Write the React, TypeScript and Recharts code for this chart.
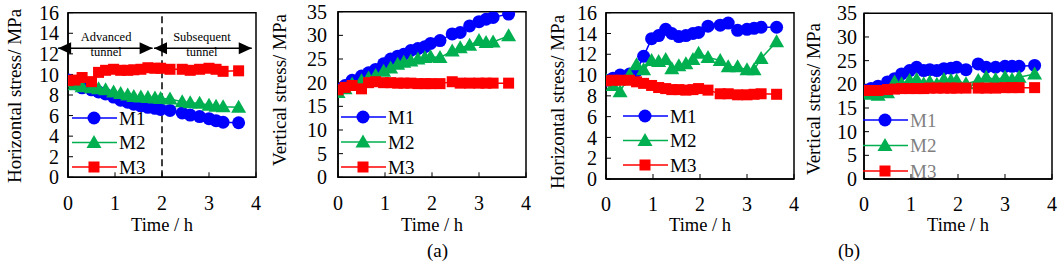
import { LineChart, Line, XAxis, YAxis, Legend, ReferenceLine, ReferenceDot, ReferenceArea } from "recharts"

const TIME = [0, 0.15, 0.3, 0.5, 0.65, 0.8, 0.97, 1.12, 1.27, 1.4, 1.55, 1.7, 1.85, 1.97, 2.17, 2.43, 2.6, 2.8, 3.0, 3.15, 3.3, 3.63]
const TIME_TICKS = [0, 1, 2, 3, 4]
const H_TICKS = [0, 2, 4, 6, 8, 10, 12, 14, 16]
const V_TICKS = [0, 5, 10, 15, 20, 25, 30, 35]
const SERIES = ["M1", "M2", "M3"]

// (a) horizontal stress
const A_H_M1 = [9.45, 9.1, 8.7, 8.5, 8.3, 8.1, 7.8, 7.5, 7.3, 7.1, 6.95, 6.8, 6.7, 6.6, 6.5, 6.25, 6.05, 5.9, 5.7, 5.5, 5.35, 5.3]
const A_H_M2 = [9.3, 9.0, 8.8, 8.7, 8.6, 8.5, 8.3, 8.15, 8.0, 7.85, 7.8, 7.75, 7.7, 7.65, 7.6, 7.35, 7.25, 7.2, 7.0, 6.9, 6.85, 6.8]
const A_H_M3 = [9.4, 9.45, 9.7, 9.3, 10.2, 10.4, 10.5, 10.4, 10.4, 10.45, 10.5, 10.65, 10.6, 10.6, 10.5, 10.5, 10.4, 10.5, 10.6, 10.5, 10.3, 10.35]
// (a) vertical stress
const A_V_M1 = [18.6, 19.4, 20.5, 21.4, 22.1, 22.8, 24.0, 25.0, 25.6, 26.0, 26.8, 27.2, 27.6, 28.3, 28.9, 30.3, 30.6, 32.0, 32.9, 33.4, 33.8, 34.5]
const A_V_M2 = [17.9, 18.7, 19.7, 20.4, 21.0, 21.5, 22.4, 23.1, 23.9, 24.3, 24.6, 25.0, 25.3, 25.5, 25.3, 26.7, 27.4, 27.9, 28.9, 28.5, 28.6, 29.9]
const A_V_M3 = [18.5, 19.0, 19.4, 18.7, 20.0, 20.2, 20.0, 20.0, 19.9, 19.9, 19.9, 19.8, 19.8, 19.8, 19.8, 20.2, 19.9, 19.9, 19.9, 19.9, 19.9, 19.9]
// (b) horizontal stress
const B_H_M1 = [9.5, 9.7, 10.0, 10.1, 10.4, 11.8, 13.5, 13.8, 14.4, 14.0, 13.7, 13.8, 14.0, 14.1, 14.7, 14.8, 15.0, 14.3, 14.4, 14.5, 14.6, 14.6]
const B_H_M2 = [9.5, 9.0, 8.4, 10.0, 11.0, 10.5, 11.4, 11.3, 11.5, 10.6, 10.9, 11.1, 11.5, 12.1, 11.7, 11.4, 10.8, 10.8, 10.5, 10.5, 11.6, 13.2]
const B_H_M3 = [9.45, 9.5, 9.5, 9.5, 9.35, 9.2, 9.0, 8.8, 8.7, 8.6, 8.6, 8.55, 8.6, 8.7, 8.55, 8.2, 8.2, 8.1, 8.1, 8.15, 8.2, 8.15]
// (b) vertical stress
const B_V_M1 = [18.7, 19.1, 19.6, 20.5, 21.2, 22.2, 22.9, 23.6, 22.9, 23.1, 22.9, 23.3, 23.4, 23.6, 23.1, 24.3, 23.6, 23.6, 23.8, 23.8, 23.8, 24.0]
const B_V_M2 = [18.2, 17.9, 17.7, 18.2, 20.5, 20.1, 20.8, 21.0, 20.1, 20.5, 20.0, 21.0, 20.8, 20.8, 20.1, 20.8, 21.5, 21.0, 21.5, 21.0, 21.5, 22.2]
const B_V_M3 = [18.7, 18.7, 18.7, 18.9, 19.0, 19.1, 19.1, 19.1, 19.1, 19.2, 19.2, 19.2, 19.2, 19.2, 19.2, 19.2, 19.2, 19.2, 19.3, 19.3, 19.3, 19.3]

const COLORS: Record<string, string> = { M1: "#0000ff", M2: "#00b050", M3: "#ff0000" }
const FONT = "Liberation Serif, serif"

function rows(m1: number[], m2: number[], m3: number[]) {
  return TIME.map((t, i) => ({ t, M1: m1[i], M2: m2[i], M3: m3[i] }))
}

function Marker({ name, x, y }: { name: string; x: number; y: number }) {
  const c = COLORS[name]
  if (name === "M1") return <circle cx={x} cy={y} r={6.5} fill={c} />
  if (name === "M2") return <path d={`M${x},${y - 7.5}L${x + 7.5},${y + 5.5}L${x - 7.5},${y + 5.5}Z`} fill={c} />
  return <rect x={x - 5.5} y={y - 5.5} width={11} height={11} fill={c} />
}

function LegendBox({ payload, gap, textColor }: any) {
  const items = [...(payload || [])].sort((a: any, b: any) => String(a.value).localeCompare(String(b.value)))
  return (
    <svg width={90} height={80} style={{ overflow: "visible" }}>
      {items.map((e: any, i: number) => {
        const y = 10 + i * gap
        return (
          <g key={e.value}>
            <line x1={0} x2={45} y1={y} y2={y} stroke={e.color} strokeWidth={1.5} />
            <Marker name={e.value} x={22} y={y} />
            <text x={47} y={y + 6.5} fontSize={19} fontFamily={FONT} fill={textColor}>{e.value}</text>
          </g>
        )
      })}
    </svg>
  )
}

function YTitle({ cx, cy, title }: any) {
  return (
    <text x={cx} y={cy} transform={`rotate(-90 ${cx} ${cy})`} textAnchor="middle" dominantBaseline="central"
      fontSize={19} fontFamily={FONT} fill="#000">{title}</text>
  )
}

function XTitle({ cx }: any) {
  return <text x={cx} y={231} textAnchor="middle" fontSize={18.5} fontFamily={FONT} fill="#000">Time / h</text>
}

function Arrow({ cx, cy, dir }: any) {
  const d = dir < 0
    ? `M${cx},${cy}L${cx + 13},${cy - 6}L${cx + 13},${cy + 6}Z`
    : `M${cx},${cy}L${cx - 13},${cy - 6}L${cx - 13},${cy + 6}Z`
  return <path d={d} fill="#000" />
}

function Note({ cx, cy, text }: any) {
  return <text x={cx} y={cy} textAnchor="middle" dominantBaseline="central" fontSize={12.5} fontFamily={FONT} fill="#000">{text}</text>
}

type PanelProps = {
  chartLeft: number
  plotLeft: number
  plotRight: number
  top: number
  bottom: number
  data: any[]
  yMax: number
  yTicks: number[]
  yTitle: string
  titleX: number
  titleY: number
  tickGap: number
  legendX: number
  legendY: number
  legendGap: number
  legendColor: string
  tunnels?: boolean
}

function Panel(p: PanelProps) {
  const width = p.plotRight + 7 - p.chartLeft
  const yWidth = p.plotLeft - p.chartLeft
  return (
    <div style={{ position: "absolute", left: p.chartLeft, top: 0 }}>
      <LineChart width={width} height={265} data={p.data}
        margin={{ top: p.top, right: 7, bottom: 0, left: 0 }}>
        <XAxis type="number" dataKey="t" domain={[0, 4]} ticks={TIME_TICKS} allowDataOverflow
          height={265 - p.bottom} tickSize={-5} tickMargin={23} interval={0}
          axisLine={{ stroke: "#000", strokeWidth: 1.5 }} tickLine={{ stroke: "#000" }}
          tick={{ fontSize: 20, fill: "#000", fontFamily: FONT }}
          label={<XTitle cx={(p.plotLeft + p.plotRight) / 2 - p.chartLeft} />} />
        <YAxis type="number" domain={[0, p.yMax]} ticks={p.yTicks} width={yWidth} interval={0}
          tickSize={-5} tickMargin={5 + p.tickGap} allowDataOverflow
          axisLine={{ stroke: "#000", strokeWidth: 1.5 }} tickLine={{ stroke: "#000" }}
          tick={{ fontSize: 20, fill: "#000", fontFamily: FONT }}
          label={<YTitle cx={p.titleX - p.chartLeft} cy={p.titleY} title={p.yTitle} />} />
        <ReferenceArea x1={0} x2={4} y1={0} y2={p.yMax} fill="none" stroke="#000" strokeWidth={1.5} />
        {p.tunnels && <ReferenceLine x={2} stroke="#000" strokeWidth={1.5} strokeDasharray="7 4" />}
        {p.tunnels && <ReferenceLine segment={[{ x: -0.21, y: 12.55 }, { x: 1.8, y: 12.55 }]} stroke="#000" strokeWidth={1.5} ifOverflow="visible" />}
        {p.tunnels && <ReferenceLine segment={[{ x: 1.83, y: 12.55 }, { x: 3.91, y: 12.55 }]} stroke="#000" strokeWidth={1.5} ifOverflow="visible" />}
        {p.tunnels && <ReferenceDot x={-0.21} y={12.55} ifOverflow="visible" shape={(s: any) => <Arrow cx={s.cx} cy={s.cy} dir={-1} />} />}
        {p.tunnels && <ReferenceDot x={1.8} y={12.55} ifOverflow="visible" shape={(s: any) => <Arrow cx={s.cx} cy={s.cy} dir={1} />} />}
        {p.tunnels && <ReferenceDot x={1.83} y={12.55} ifOverflow="visible" shape={(s: any) => <Arrow cx={s.cx} cy={s.cy} dir={-1} />} />}
        {p.tunnels && <ReferenceDot x={3.91} y={12.55} ifOverflow="visible" shape={(s: any) => <Arrow cx={s.cx} cy={s.cy} dir={1} />} />}
        {p.tunnels && <ReferenceDot x={0.81} y={13.65} ifOverflow="visible" shape={(s: any) => <Note cx={s.cx} cy={s.cy} text="Advanced" />} />}
        {p.tunnels && <ReferenceDot x={0.81} y={12.2} ifOverflow="visible" shape={(s: any) => <Note cx={s.cx} cy={s.cy} text="tunnel" />} />}
        {p.tunnels && <ReferenceDot x={2.85} y={13.65} ifOverflow="visible" shape={(s: any) => <Note cx={s.cx} cy={s.cy} text="Subsequent" />} />}
        {p.tunnels && <ReferenceDot x={2.85} y={12.2} ifOverflow="visible" shape={(s: any) => <Note cx={s.cx} cy={s.cy} text="tunnel" />} />}
        {SERIES.map((name) => (
          <Line key={name} dataKey={name} name={name} type="linear" stroke={COLORS[name]} strokeWidth={1.5}
            isAnimationActive={false}
            dot={(d: any) => <Marker key={`${name}-${d.index}`} name={name} x={d.cx} y={d.cy} />} />
        ))}
        <Legend layout="vertical" align="center" verticalAlign="middle"
          wrapperStyle={{ left: p.legendX - p.chartLeft, top: p.legendY - 10, width: 90, height: 80 }}
          content={(lp: any) => <LegendBox payload={lp.payload} gap={p.legendGap} textColor={p.legendColor} />} />
      </LineChart>
    </div>
  )
}

export default function App() {
  return (
    <div style={{ position: "absolute", left: 0, top: 0, width: 1059, height: 265, background: "#fff", fontFamily: FONT }}>
      <Panel chartLeft={0} plotLeft={68} plotRight={256} top={12.7} bottom={177.3}
        data={rows(A_H_M1, A_H_M2, A_H_M3)} yMax={16} yTicks={H_TICKS} yTitle="Horizontal stress/ MPa"
        titleX={14} titleY={96} tickGap={9} legendX={72} legendY={118} legendGap={24.5} legendColor="#000" tunnels />
      <Panel chartLeft={265} plotLeft={338} plotRight={526} top={11.7} bottom={177.3}
        data={rows(A_V_M1, A_V_M2, A_V_M3)} yMax={35} yTicks={V_TICKS} yTitle="Vertical stress/ MPa"
        titleX={279} titleY={90} tickGap={11} legendX={341} legendY={117} legendGap={25} legendColor="#000" />
      <Panel chartLeft={530} plotLeft={606} plotRight={794} top={12.7} bottom={179}
        data={rows(B_H_M1, B_H_M2, B_H_M3)} yMax={16} yTicks={H_TICKS} yTitle="Horizontal stress/ MPa"
        titleX={557.5} titleY={102} tickGap={9} legendX={623} legendY={116} legendGap={24.5} legendColor="#000" />
      <Panel chartLeft={795} plotLeft={864} plotRight={1052} top={13.3} bottom={179}
        data={rows(B_V_M1, B_V_M2, B_V_M3)} yMax={35} yTicks={V_TICKS} yTitle="Vertical stress/ MPa"
        titleX={813} titleY={99} tickGap={7} legendX={863} legendY={120} legendGap={25.5} legendColor="#7f7f7f" />
      <div style={{ position: "absolute", left: 427, top: 239, fontSize: 19, lineHeight: "24px" }}>(a)</div>
      <div style={{ position: "absolute", left: 838, top: 239, fontSize: 19, lineHeight: "24px" }}>(b)</div>
    </div>
  )
}
